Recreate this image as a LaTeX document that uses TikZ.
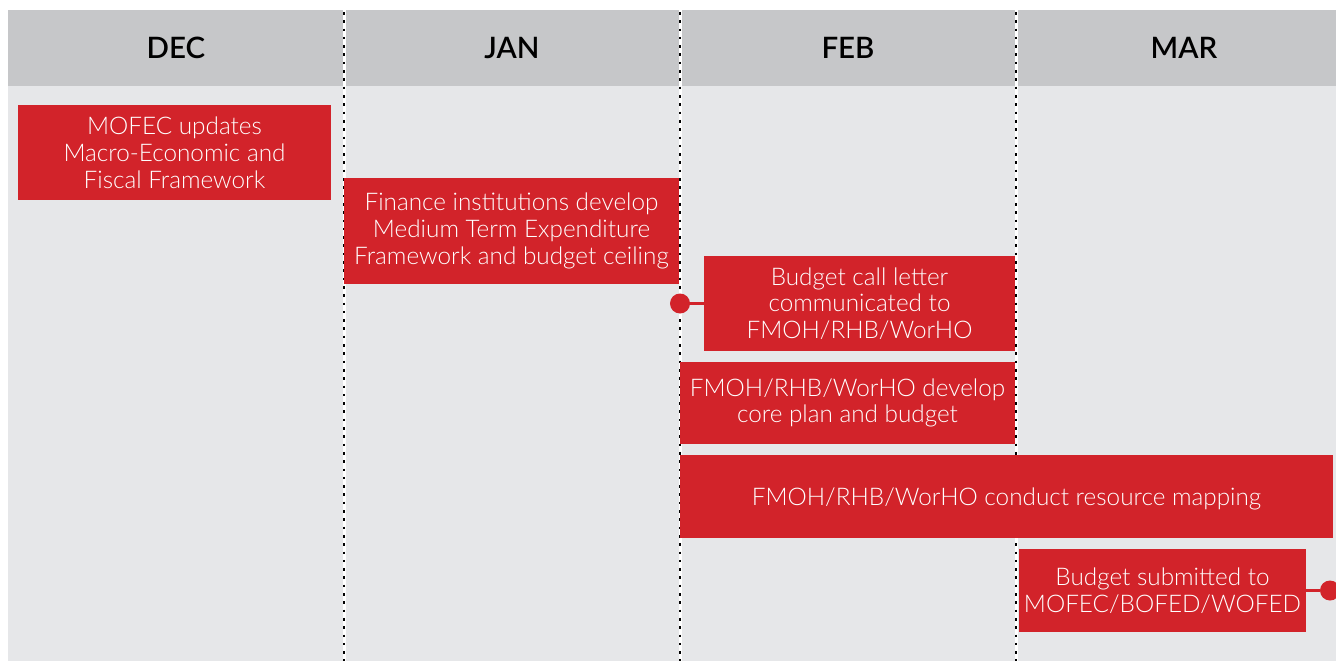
\documentclass[tikz,border=0pt]{standalone}
\usepackage{fontspec}
\setmainfont{Lato}[UprightFont=* Light, BoldFont=* Bold]
\newfontfamily\monthfont{Lato Semibold}
\usetikzlibrary{positioning}
\definecolor{hdrgray}{HTML}{C6C7C9}
\definecolor{bodygray}{HTML}{E6E7E9}
\definecolor{taskred}{HTML}{D2232A}
\tikzset{
  task/.style={fill=taskred, text=white, align=center, inner sep=0pt,
    font=\fontsize{24.3}{26.8}\selectfont,
    execute at begin node={\rule{0pt}{23pt}}},
  month/.style={font=\fontsize{29.5}{32}\monthfont, text=black},
  dot/.style={circle, fill=taskred, inner sep=0pt, minimum size=20pt},
  link/.style={draw=taskred, line width=3pt},
  divider/.style={white, line width=3pt},
  divdots/.style={black, line width=2.6pt, dash pattern=on 2.6pt off 5.7pt}
}
% box from (x1,y1) to (x2,y2), y counted down
\newcommand{\tbox}[6]{%
  \node[task, minimum width={#4-#2}, minimum height={#5-#3}]
    (#1) at ({(#2+#4)/2},{(#3+#5)/2}) {#6};}
\newcommand{\mdiv}[1]{%
  \draw[divider] (#1,10) -- (#1,661);
  \draw[divdots] (#1,12) -- (#1,661);}

\begin{document}
\begin{tikzpicture}[x=1pt, y=-1pt]
\useasboundingbox (0,0) rectangle (1336,661);
% bands
\fill[hdrgray] (8,10) rectangle (1336,86);
\fill[bodygray] (8,86) rectangle (1336,661);
% months
\node[month] (dec) at (176,48) {DEC};
\node[month] (jan) at (512,48) {JAN};
\node[month] (feb) at (848,48) {FEB};
\node[month] (mar) at (1184,48) {MAR};
% column borders
\mdiv{344}
\mdiv{680}
\mdiv{1016}
% tasks
\tbox{mofec}{18}{105}{331}{200}{MOFEC updates\\Macro-Economic and\\Fiscal Framework}
\tbox{mtef}{344}{178}{679}{284}{Finance institutions develop\\Medium Term Expenditure\\Framework and budget ceiling}
\tbox{call}{704}{256}{1015}{351}{Budget call letter\\communicated to\\FMOH/RHB/WorHO}
\tbox{core}{680}{362}{1015}{444}{FMOH/RHB/WorHO develop\\core plan and budget}
\tbox{rmap}{680}{455}{1333}{538}{FMOH/RHB/WorHO conduct resource mapping}
\tbox{submit}{1019}{549}{1306}{632}{Budget submitted to\\MOFEC/BOFED/WOFED}
% markers
\node[dot] (callpin) at (680,303.5) {};
\node[dot] (subpin) at (1330,590.5) {};
\draw[link] (callpin) -- (call);
\draw[link] (submit) -- (subpin);
\end{tikzpicture}
\end{document}
